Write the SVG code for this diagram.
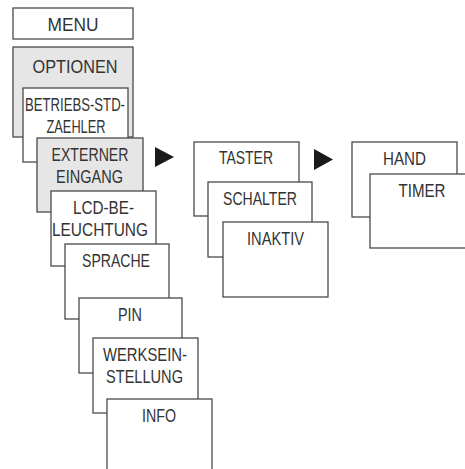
<svg xmlns="http://www.w3.org/2000/svg" width="465" height="469" viewBox="0 0 465 469">
<style>
rect{fill:#fff;stroke:#4a4a4a;stroke-width:1.3}
rect.g{fill:#e6e6e6}
text{font-family:"Liberation Sans",Arial,sans-serif;font-size:18px;fill:#333;text-anchor:middle}
.arr{fill:#1a1a1a}
</style>
<rect x="0" y="0" width="465" height="469" style="fill:#fff;stroke:none"/>
<g id="menu"><rect x="13" y="8" width="120" height="31"/><text x="73" y="31" textLength="51" lengthAdjust="spacingAndGlyphs">MENU</text></g>
<g id="optionen"><rect class="g" x="13" y="47" width="120" height="90"/><text x="75" y="73" textLength="85" lengthAdjust="spacingAndGlyphs">OPTIONEN</text></g>
<g id="betriebs"><rect x="23" y="88" width="105" height="74"/><text x="75" y="111" textLength="100" lengthAdjust="spacingAndGlyphs">BETRIEBS-STD-</text><text x="76" y="133" textLength="59" lengthAdjust="spacingAndGlyphs">ZAEHLER</text></g>
<g id="externer"><rect class="g" x="37" y="138" width="106" height="74"/><text x="90" y="161" textLength="77" lengthAdjust="spacingAndGlyphs">EXTERNER</text><text x="89.5" y="183" textLength="67" lengthAdjust="spacingAndGlyphs">EINGANG</text></g>
<g id="lcd"><rect x="51" y="191" width="105" height="75"/><text x="103.5" y="214" textLength="61" lengthAdjust="spacingAndGlyphs">LCD-BE-</text><text x="100" y="236" textLength="96" lengthAdjust="spacingAndGlyphs">LEUCHTUNG</text></g>
<g id="sprache"><rect x="65" y="244" width="104" height="75"/><text x="116" y="267" textLength="68" lengthAdjust="spacingAndGlyphs">SPRACHE</text></g>
<g id="pin"><rect x="79" y="298" width="103" height="75"/><text x="130" y="321" textLength="24" lengthAdjust="spacingAndGlyphs">PIN</text></g>
<g id="werk"><rect x="93" y="338" width="105" height="75"/><text x="145" y="361" textLength="84" lengthAdjust="spacingAndGlyphs">WERKSEIN-</text><text x="144.5" y="383" textLength="77" lengthAdjust="spacingAndGlyphs">STELLUNG</text></g>
<g id="info"><rect x="107" y="399" width="105" height="80"/><text x="159" y="422" textLength="34" lengthAdjust="spacingAndGlyphs">INFO</text></g>
<g id="taster"><rect x="194" y="142" width="105" height="74"/><text x="246" y="164" textLength="54" lengthAdjust="spacingAndGlyphs">TASTER</text></g>
<g id="schalter"><rect x="208" y="182" width="104" height="75"/><text x="260" y="205" textLength="74" lengthAdjust="spacingAndGlyphs">SCHALTER</text></g>
<g id="inaktiv"><rect x="223" y="222" width="105" height="75"/><text x="275.5" y="245" textLength="57" lengthAdjust="spacingAndGlyphs">INAKTIV</text></g>
<g id="hand"><rect x="352" y="142" width="105" height="75"/><text x="404.5" y="165" textLength="43" lengthAdjust="spacingAndGlyphs">HAND</text></g>
<g id="timer"><rect x="370" y="174" width="110" height="74"/><text x="422" y="197" textLength="47" lengthAdjust="spacingAndGlyphs">TIMER</text></g>
<g id="connectors">
<polygon class="arr" points="155,147 155,167 174,157"/>
<polygon class="arr" points="314,149 314,170 333,159.5"/>
</g>
</svg>
